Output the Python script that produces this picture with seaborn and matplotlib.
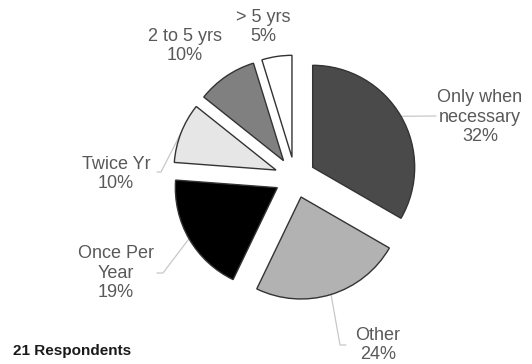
import matplotlib
matplotlib.use("Agg")
import matplotlib.pyplot as plt
import seaborn as sns
import numpy as np

# data
labels = ["Only when\nnecessary", "Other", "Once Per\nYear", "Twice Yr", "2 to 5 yrs", "> 5 yrs"]
counts = [7, 5, 4, 2, 2, 1]          # of 21 respondents
pct_labels = ["32%", "24%", "19%", "10%", "10%", "5%"]
colors = ["#4a4a4a", "#b2b2b2", "#000000", "#e6e6e6", "#808080", "#ffffff"]
note = "21 Respondents"

sns.set_style("white")
plt.rcParams["font.family"] = ["Liberation Sans", "DejaVu Sans"]

W, H = 532, 364
R = 102.0           # pie radius in px
CX, CY = 295.0, 177.5


def px(x, y):
    # pixel position (from top-left) -> data coords
    return (x - CX) / R, (CY - y) / R


fig = plt.figure(figsize=(W / 100, H / 100), dpi=100)
ax = fig.add_axes([0, 0, 1, 1])

wedges, _ = ax.pie(counts, explode=[0.2] * len(counts), startangle=90,
                   counterclock=False, colors=colors,
                   wedgeprops=dict(edgecolor="#333333", linewidth=1.0))
ax.set_aspect("auto")
ax.set_xlim(-CX / R, (W - CX) / R)
ax.set_ylim(-(H - CY) / R, CY / R)
ax.axis("off")

# label centres (px) and leader elbows (px) -- layout only
label_pos = [(480, 117), (378, 345), (116, 273), (116, 174), (185, 46), (263, 27)]
leaders = [[(436, 116)],
           [(340, 345), (346, 345)],
           [(163, 273), (157, 273)],
           [(161, 172), (157, 172)],
           None, None]

txt_color = "#595959"
for w, lab, pct, pos, lead in zip(wedges, labels, pct_labels, label_pos, leaders):
    x, y = px(*pos)
    ax.text(x, y, lab + "\n" + pct, ha="center", va="center",
            fontsize=13, color=txt_color, linespacing=1.2)
    if lead is not None:
        mid = np.deg2rad((w.theta1 + w.theta2) / 2)
        cx, cy = w.center
        sx, sy = cx + w.r * np.cos(mid), cy + w.r * np.sin(mid)
        pts = [(sx, sy)] + [px(*p) for p in lead]
        xs, ys = zip(*pts)
        ax.plot(xs, ys, color="#c8c8c8", lw=0.9, zorder=0)

fig.text(13 / W, 1 - 351 / H, note, ha="left", va="center",
         fontsize=11, fontweight="bold", color="#1a1a1a")

fig.savefig("out.png", dpi=100)
